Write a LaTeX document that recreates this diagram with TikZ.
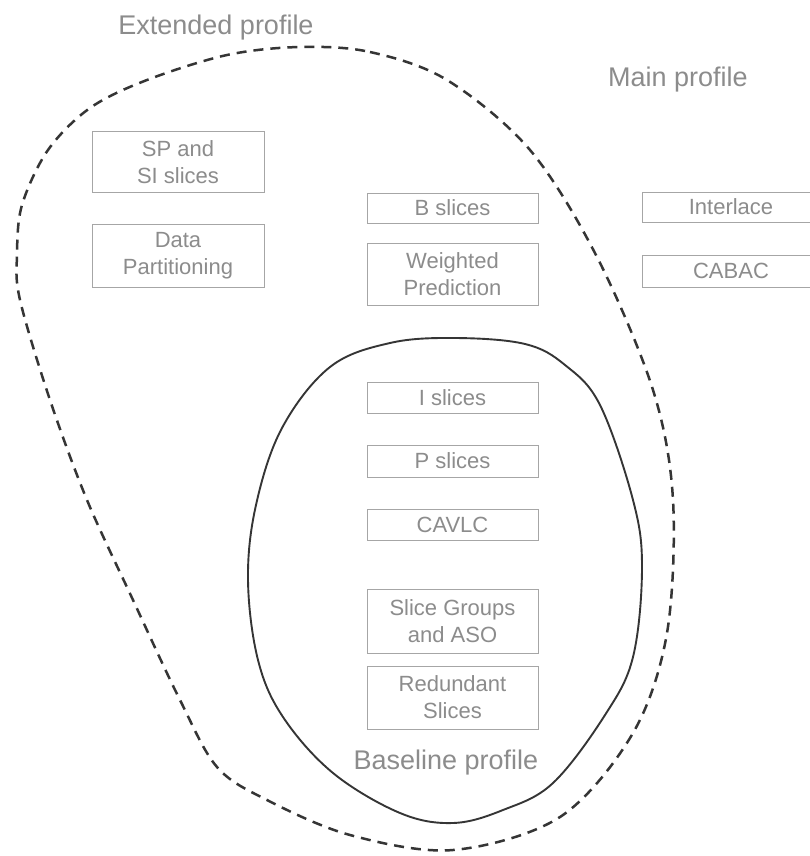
\documentclass[tikz,border=0pt]{standalone}
\usepackage{fontspec}
\setmainfont{Liberation Sans}
\definecolor{txtgray}{HTML}{8C8C8C}
\definecolor{boxgray}{HTML}{A6A6A6}
\definecolor{curvegray}{HTML}{353535}
\tikzset{
  featbox/.style={draw=boxgray, line width=0.9pt, text=txtgray, align=center,
    minimum width=171pt, inner sep=0pt, font=\fontsize{22}{27}\selectfont},
  proflabel/.style={text=txtgray, inner sep=0pt, font=\fontsize{27}{32}\selectfont},
  extcurve/.style={draw=curvegray, line width=2.5pt, dash pattern=on 10pt off 7pt},
  basecurve/.style={draw=curvegray, line width=1.9pt}
}
\begin{document}
\begin{tikzpicture}[x=1pt,y=-1pt]
\useasboundingbox[fill=white] (0,0) rectangle (810,856);

% Extended profile boundary (dashed)
\draw[extcurve] plot[smooth cycle, tension=0.55] coordinates {
 (300,47) (370,52) (447,80) (530,150) (597,257) (653,390) (673,500)
 (667,633) (633,733) (560,817) (453,850) (350,835) (267,800) (217,767)
 (180,700) (133,600) (87,500) (50,400) (20,300) (17,255) (22,205)
 (48,150) (90,108) (147,80) (227,55)};

% Baseline profile boundary (solid)
\draw[basecurve] plot[smooth cycle, tension=0.6] coordinates {
 (455,338) (525,344) (565,365) (600,405) (633,500) (642,567) (633,657)
 (605,715) (553,783) (503,810) (453,823) (400,813) (333,773) (283,717)
 (258,660) (248,580) (256,505) (282,428) (330,367) (390,343)};

% Labels
\node[proflabel] (ext) at (216,28) {Extended profile};
\node[proflabel] (main) at (678,80) {Main profile};
\node[proflabel] (base) at (446,763) {Baseline profile};

% Extended-only features
\node[featbox, minimum width=172pt, minimum height=61pt] (sp) at (178,162) {SP and\\SI slices};
\node[featbox, minimum width=172pt, minimum height=63pt] (dp) at (178,255.5) {Data\\Partitioning};

% Main/Extended features
\node[featbox, minimum height=30pt] (bs) at (452.5,208) {B slices};
\node[featbox, minimum height=62pt] (wp) at (452.5,274) {Weighted\\Prediction};

% Main-only features (cut off at right edge)
\node[featbox, minimum width=178pt, minimum height=30pt] (il) at (731,207) {Interlace};
\node[featbox, minimum width=178pt, minimum height=32pt] (cb) at (731,271) {CABAC};

% Baseline features
\node[featbox, minimum height=31pt] (is) at (452.5,397.5) {I slices};
\node[featbox, minimum height=32pt] (ps) at (452.5,461) {P slices};
\node[featbox, minimum height=31pt] (cv) at (452.5,524.5) {CAVLC};
\node[featbox, minimum height=64pt] (sg) at (452.5,621) {Slice Groups\\and ASO};
\node[featbox, minimum height=63pt] (rs) at (452.5,697.5) {Redundant\\Slices};
\end{tikzpicture}
\end{document}
